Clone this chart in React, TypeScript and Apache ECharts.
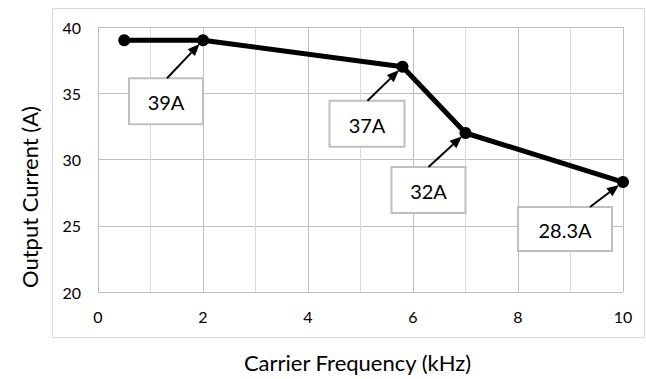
import React, { useEffect, useRef } from "react";
import * as echarts from "echarts";

const xValues = [0.5, 2, 5.8, 7, 10];
const yValues = [39, 39, 37, 32, 28.3];
const calloutTexts = ["39A", "37A", "32A", "28.3A"];
const calloutPointIndex = [1, 2, 3, 4];
const xTitle = "Carrier Frequency (kHz)";
const yTitle = "Output Current (A)";

// callout layout relative to the anchored data point (pixels)
const calloutLayout = [
  { dx: -74, dy: 38, w: 74, h: 46, tx: -36 },
  { dx: -73, dy: 34, w: 75, h: 46, tx: -35 },
  { dx: -74, dy: 34, w: 74, h: 46, tx: -37 },
  { dx: -105, dy: 25, w: 94, h: 44, tx: -33 },
];

const FONT = "Lato, 'Open Sans', sans-serif";

export default function App() {
  const ref = useRef<HTMLDivElement>(null);
  useEffect(() => {
    const chart = echarts.init(ref.current!, null, { renderer: "svg" });
    chart.setOption({
      animation: false,
      backgroundColor: "#fff",
      grid: { left: 98, top: 27, width: 525, height: 265, containLabel: false },
      xAxis: {
        type: "value",
        min: 0,
        max: 10,
        interval: 2,
        name: xTitle,
        nameLocation: "middle",
        nameGap: 59,
        nameTextStyle: { fontFamily: FONT, fontSize: 22, color: "#000", padding: [0, 6, 0, 0] },
        axisLine: { show: false },
        axisTick: { show: false },
        axisLabel: { margin: 16, fontFamily: FONT, fontSize: 16, color: "#000" },
        splitLine: { show: true, lineStyle: { color: "#bfbfbf", width: 1 } },
        minorTick: { show: false, splitNumber: 2 },
        minorSplitLine: { show: true, lineStyle: { color: "#d9d9d9", width: 1 } },
      },
      yAxis: {
        type: "value",
        min: 20,
        max: 40,
        interval: 5,
        axisLine: { show: false },
        axisTick: { show: false },
        axisLabel: { margin: 17, fontFamily: FONT, fontSize: 16, color: "#000" },
        splitLine: { show: true, lineStyle: { color: "#bfbfbf", width: 1 } },
      },
      series: [
        {
          type: "line",
          data: xValues.map((x, i) => [x, yValues[i]]),
          lineStyle: { color: "#000", width: 5 },
          itemStyle: { color: "#000" },
          symbol: "circle",
          symbolSize: 12,
          z: 5,
        },
      ],
    });

    const gfx: any[] = [
      {
        type: "rect",
        silent: true,
        z: -10,
        shape: { x: 52.5, y: 8.5, width: 592, height: 329 },
        style: { fill: "none", stroke: "#d9d9d9", lineWidth: 1 },
      },
      {
        type: "text",
        x: 29,
        y: 197,
        rotation: Math.PI / 2,
        style: {
          text: yTitle,
          font: `22px ${FONT}`,
          fill: "#000",
          align: "center",
          verticalAlign: "middle",
        },
      },
    ];
    calloutPointIndex.forEach((idx, k) => {
      const [px, py] = chart.convertToPixel({ gridIndex: 0 }, [xValues[idx], yValues[idx]]) as number[];
      const L = calloutLayout[k];
      const bx = px + L.dx;
      const by = py + L.dy;
      gfx.push({
        type: "rect",
        z: 100,
        shape: { x: bx, y: by, width: L.w, height: L.h },
        style: { fill: "#fff", stroke: "#bfbfbf", lineWidth: 2 },
      });
      gfx.push({
        type: "text",
        z: 101,
        x: bx + L.w / 2,
        y: by + L.h / 2 + 1,
        style: {
          text: calloutTexts[k],
          font: `20px ${FONT}`,
          fill: "#000",
          align: "center",
          verticalAlign: "middle",
        },
      });
      const x1 = px + L.tx;
      const y1 = by;
      const ddx = px - x1;
      const ddy = py - y1;
      const len = Math.sqrt(ddx * ddx + ddy * ddy);
      const ux = ddx / len;
      const uy = ddy / len;
      const tipX = px - ux * 5;
      const tipY = py - uy * 5;
      const headLen = 12;
      const headW = 5;
      const baseX = tipX - ux * headLen;
      const baseY = tipY - uy * headLen;
      gfx.push({
        type: "line",
        z: 102,
        shape: { x1, y1, x2: baseX, y2: baseY },
        style: { stroke: "#000", lineWidth: 2 },
      });
      gfx.push({
        type: "polygon",
        z: 102,
        shape: {
          points: [
            [tipX, tipY],
            [baseX - uy * headW, baseY + ux * headW],
            [baseX + uy * headW, baseY - ux * headW],
          ],
        },
        style: { fill: "#000" },
      });
    });
    chart.setOption({ graphic: gfx });
    return () => chart.dispose();
  }, []);
  return (
    <div
      ref={ref}
      style={{ position: "fixed", left: 0, top: 0, width: 646, height: 379, background: "#fff" }}
    />
  );
}
